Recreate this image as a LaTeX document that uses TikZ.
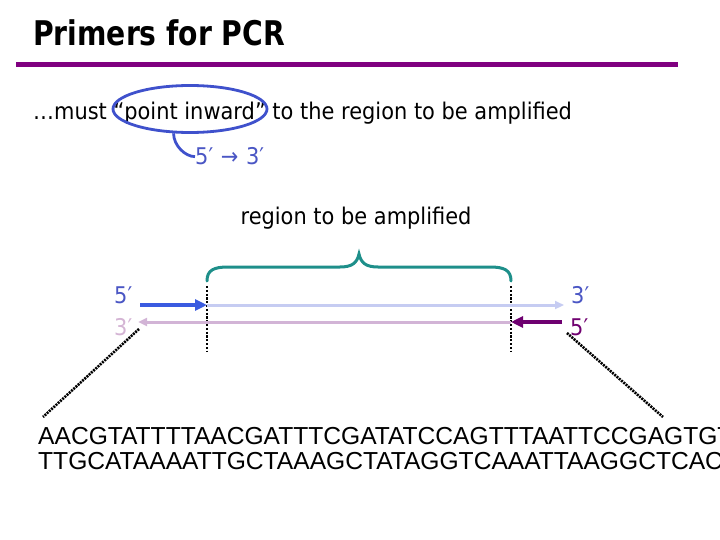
\documentclass[tikz,border=0pt]{standalone}
\usepackage{fontspec}
\setmainfont{DejaVu Sans}
\newfontfamily\tahoma{DejaVu Sans}[FakeStretch=0.91]
\newfontfamily\titlefont{DejaVu Sans}[FakeStretch=0.83]
\newfontfamily\arialfont{Liberation Sans}
\usetikzlibrary{arrows.meta,shapes.geometric}
\definecolor{titlepurple}{HTML}{800080}
\definecolor{ovalblue}{HTML}{3F51CC}
\definecolor{dirblue}{HTML}{4A56C4}
\definecolor{braceteal}{HTML}{1E8F8A}
\definecolor{primerblue}{HTML}{3A5BE0}
\definecolor{strandblue}{HTML}{C6CCF2}
\definecolor{strandlilac}{HTML}{D2B4D6}
\definecolor{primerpurple}{HTML}{6E0070}
\definecolor{labelblue}{HTML}{4A56C4}
\definecolor{labellilac}{HTML}{D4B4D4}
\definecolor{labelpurple}{HTML}{700070}
\begin{document}
\begin{tikzpicture}[x=1pt,y=-1pt,
  body/.style={font=\tahoma\fontsize{23}{27}\selectfont, inner sep=0pt},
  seqtext/.style={font=\arialfont\fontsize{24.6}{28}\selectfont, inner sep=0pt, anchor=base west},
  endlabel/.style={body, anchor=base west},
  vdots/.style={line width=2.6pt, dash pattern=on 2.2pt off 1.6pt},
  diagdots/.style={line width=2.6pt, dash pattern=on 2pt off 1pt},
  primer/.style={line width=4pt, -{Triangle[length=12pt,width=11pt]}},
  strand/.style={line width=3pt, -{Triangle[length=9pt,width=8pt]}}
]
\useasboundingbox (0,0) rectangle (720,540);

% title and rule
\node[anchor=base west, inner sep=0pt, font=\titlefont\bfseries\fontsize{34}{40}\selectfont] (title) at (33,46) {Primers for PCR};
\coordinate (ruleL) at (16,65);
\coordinate (ruleR) at (678,65);
\draw[titlepurple, line width=5pt] (ruleL) -- (ruleR);

% intro text with oval
\node[body, anchor=base west] (intro) at (33,120) {…must “point inward” to the region to be amplified};
\node[ellipse, draw=ovalblue, line width=2.8pt, minimum width=154pt, minimum height=47pt, inner sep=0pt] (oval) at (190,109) {};
\node[body, anchor=base west, text=dirblue] (dir) at (195,165) {5′\,\,→\,\,3′};
\draw[ovalblue, line width=2.8pt] (oval.236) .. controls +(0,12) and +(-10,0) .. (dir.west);

% region label and brace
\node[body, anchor=base] (region) at (356,225) {region to be amplified};
\coordinate (bL) at (207,281);
\coordinate (bR) at (511,281);
\coordinate (bM) at (359,254);
\draw[braceteal, line width=3pt, line cap=round]
  (bL) .. controls (207,270) and (214,267) .. (228,267) -- (340,267)
  .. controls (352,267) and (357,263) .. (bM)
  .. controls (361,263) and (366,267) .. (378,267) -- (490,267)
  .. controls (504,267) and (511,270) .. (bR);

% vertical dotted markers
\coordinate (v1t) at (207,286); \coordinate (v1b) at (207,352);
\coordinate (v2t) at (511,286); \coordinate (v2b) at (511,352);
\draw[vdots] (v1t) -- (v1b);
\draw[vdots] (v2t) -- (v2b);

% strands and primers
\coordinate (pLs) at (140,305);
\coordinate (pLe) at (207,305);
\coordinate (sTe) at (564,305);
\coordinate (pRs) at (562,322);
\coordinate (pRe) at (511,322);
\coordinate (sBe) at (138,322);
\draw[strand, strandblue] (pLe) -- (sTe);
\draw[strand, strandlilac] (pRe) -- (sBe);
\draw[primer, primerblue] (pLs) -- (pLe);
\draw[primer, primerpurple] (pRs) -- (pRe);

% end labels
\node[endlabel, text=labelblue] (l5) at (114,303) {5′};
\node[endlabel, text=labellilac] (l3) at (114,335) {3′};
\node[endlabel, text=labelblue] (r3) at (571,303) {3′};
\node[endlabel, text=labelpurple] (r5) at (570,335) {5′};

% sequence
\node[seqtext] (seq1) at (38,444) {AACGTATTTTAACGATTTCGATATCCAGTTTAATTCCGAGTGT};
\node[seqtext] (seq2) at (38,469) {TTGCATAAAATTGCTAAAGCTATAGGTCAAATTAAGGCTCAC};

% zoom lines
\coordinate (dLt) at (139,329); \coordinate (dLb) at (43,417);
\coordinate (dRt) at (567,333); \coordinate (dRb) at (663,417);
\draw[diagdots] (dLt) -- (dLb);
\draw[diagdots] (dRt) -- (dRb);
\end{tikzpicture}
\end{document}
